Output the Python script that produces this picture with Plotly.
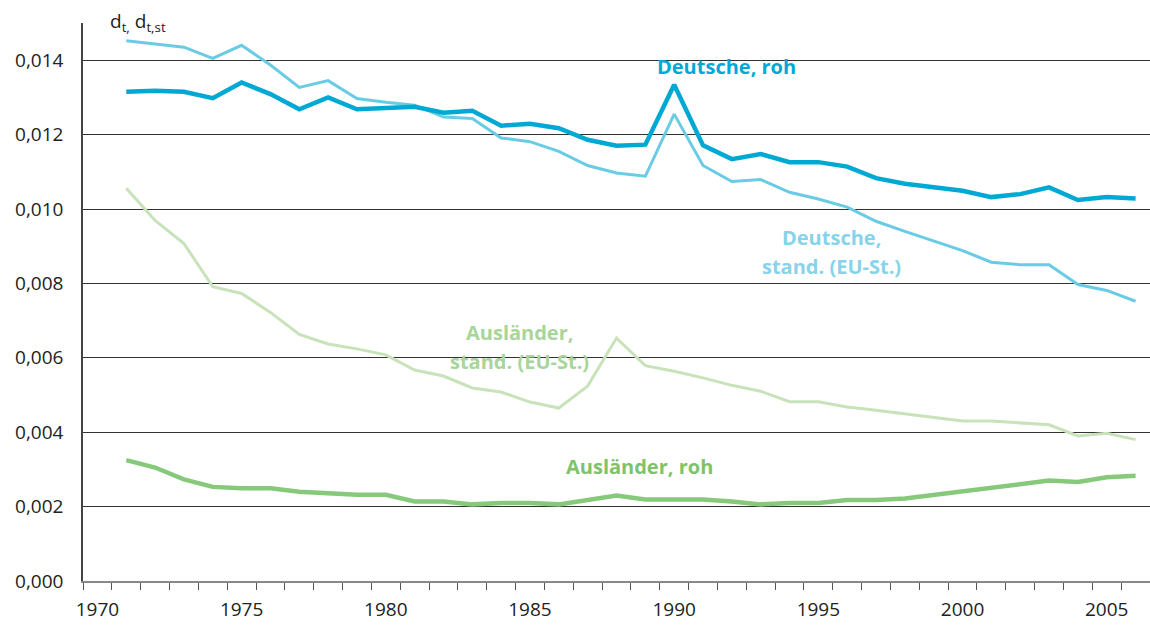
import plotly.graph_objects as go

years = list(range(1971, 2007))

deutsche_roh = [0.01315, 0.01318, 0.01315, 0.01298, 0.01340, 0.01309, 0.01268, 0.01300, 0.01268, 0.01271,
                0.01275, 0.01259, 0.01264, 0.01224, 0.01229, 0.01217, 0.01186, 0.01170, 0.01173, 0.01334,
                0.01171, 0.01134, 0.01148, 0.01126, 0.01126, 0.01114, 0.01083, 0.01068, 0.01059, 0.01049,
                0.01032, 0.01040, 0.01058, 0.01024, 0.01032, 0.01028]

deutsche_stand = [0.01452, 0.01444, 0.01435, 0.01405, 0.01440, 0.01387, 0.01327, 0.01345, 0.01297, 0.01287,
                  0.01279, 0.01247, 0.01243, 0.01191, 0.01181, 0.01155, 0.01117, 0.01097, 0.01088, 0.01255,
                  0.01117, 0.01074, 0.01079, 0.01045, 0.01027, 0.01005, 0.00967, 0.00940, 0.00913, 0.00888,
                  0.00857, 0.00850, 0.00850, 0.00797, 0.00781, 0.00752]

auslaender_stand = [0.01056, 0.00969, 0.00907, 0.00791, 0.00773, 0.00722, 0.00663, 0.00637, 0.00624, 0.00608,
                    0.00567, 0.00551, 0.00519, 0.00508, 0.00481, 0.00465, 0.00524, 0.00653, 0.00579, 0.00564,
                    0.00546, 0.00526, 0.00510, 0.00482, 0.00482, 0.00468, 0.00459, 0.00450, 0.00439, 0.00430,
                    0.00430, 0.00425, 0.00420, 0.00390, 0.00397, 0.00380]

auslaender_roh = [0.00325, 0.00305, 0.00273, 0.00253, 0.00249, 0.00249, 0.00240, 0.00236, 0.00232, 0.00232,
                  0.00214, 0.00214, 0.00206, 0.00210, 0.00210, 0.00206, 0.00218, 0.00230, 0.00219, 0.00219,
                  0.00219, 0.00214, 0.00206, 0.00210, 0.00210, 0.00218, 0.00218, 0.00222, 0.00231, 0.00240,
                  0.00249, 0.00258, 0.00270, 0.00266, 0.00279, 0.00283]

x_labels = [1970, 1975, 1980, 1985, 1990, 1995, 2000, 2005]
y_ticks = [0.000, 0.002, 0.004, 0.006, 0.008, 0.010, 0.012, 0.014]

C_DR = "#00A9D4"
C_DS = "#6ACBE5"
C_AS = "#C8E2BA"
C_AR = "#86C97A"

FONT = "Open Sans, Liberation Sans, sans-serif"

fig = go.Figure()
fig.add_trace(go.Scatter(x=years, y=auslaender_stand, mode="lines",
                         line=dict(color=C_AS, width=3), name="Ausländer, stand."))
fig.add_trace(go.Scatter(x=years, y=auslaender_roh, mode="lines",
                         line=dict(color=C_AR, width=4.5), name="Ausländer, roh"))
fig.add_trace(go.Scatter(x=years, y=deutsche_stand, mode="lines",
                         line=dict(color=C_DS, width=3), name="Deutsche, stand."))
fig.add_trace(go.Scatter(x=years, y=deutsche_roh, mode="lines",
                         line=dict(color=C_DR, width=4.5), name="Deutsche, roh"))

labels = [
    (1991.81, 0.01382, "<b>Deutsche, roh</b>", C_DR),
    (1995.45, 0.00923, "<b>Deutsche,</b>", "#86D3EA"),
    (1995.45, 0.00845, "<b>stand. (EU-St.)</b>", "#86D3EA"),
    (1984.63, 0.00668, "<b>Ausländer,</b>", "#A8D59A"),
    (1984.63, 0.00590, "<b>stand. (EU-St.)</b>", "#A8D59A"),
    (1988.79, 0.00308, "<b>Ausländer, roh</b>", "#7DC36B"),
]
annotations = [
    dict(x=x, y=y, text=t, xref="x", yref="y", showarrow=False, xanchor="center", yanchor="middle",
         font=dict(family=FONT, color=c, size=20))
    for x, y, t, c in labels
]
annotations.append(dict(x=0.0234, y=1.002, xref="paper", yref="paper", xanchor="left", yanchor="middle",
                        showarrow=False, text="d<sub>t,</sub> d<sub>t,st</sub>",
                        font=dict(family=FONT, size=19, color="#222")))

fig.update_layout(
    width=1150, height=626,
    margin=dict(l=83, r=0, t=23, b=45),
    paper_bgcolor="white", plot_bgcolor="white",
    showlegend=False,
    separators=",.",
    annotations=annotations,
    font=dict(family=FONT, size=19, color="#222"),
)
fig.update_xaxes(
    range=[1969.5, 2006.5],
    tickvals=x_labels, ticktext=[str(v) for v in x_labels],
    ticks="", showgrid=False, zeroline=False, automargin=False,
    showline=True, linecolor="#888", linewidth=1.5,
    ticklabelstandoff=10,
    minor=dict(tick0=1969.5, dtick=1, ticks="outside", ticklen=7, tickcolor="#555", tickwidth=1, showgrid=False),
    tickfont=dict(family=FONT, size=19, color="#222"),
)
fig.update_yaxes(
    range=[0, 0.015],
    tickvals=y_ticks, tickformat=".3f",
    ticks="", showgrid=True, gridcolor="#333", gridwidth=1,
    zeroline=False, showline=True, linecolor="#444", linewidth=1.5, automargin=False,
    ticklabelstandoff=14,
    tickfont=dict(family=FONT, size=19, color="#222"),
)

fig.write_html("out.html",
               config={"displayModeBar": False},
               post_script="document.body.style.margin='0';document.body.style.overflow='hidden';")
